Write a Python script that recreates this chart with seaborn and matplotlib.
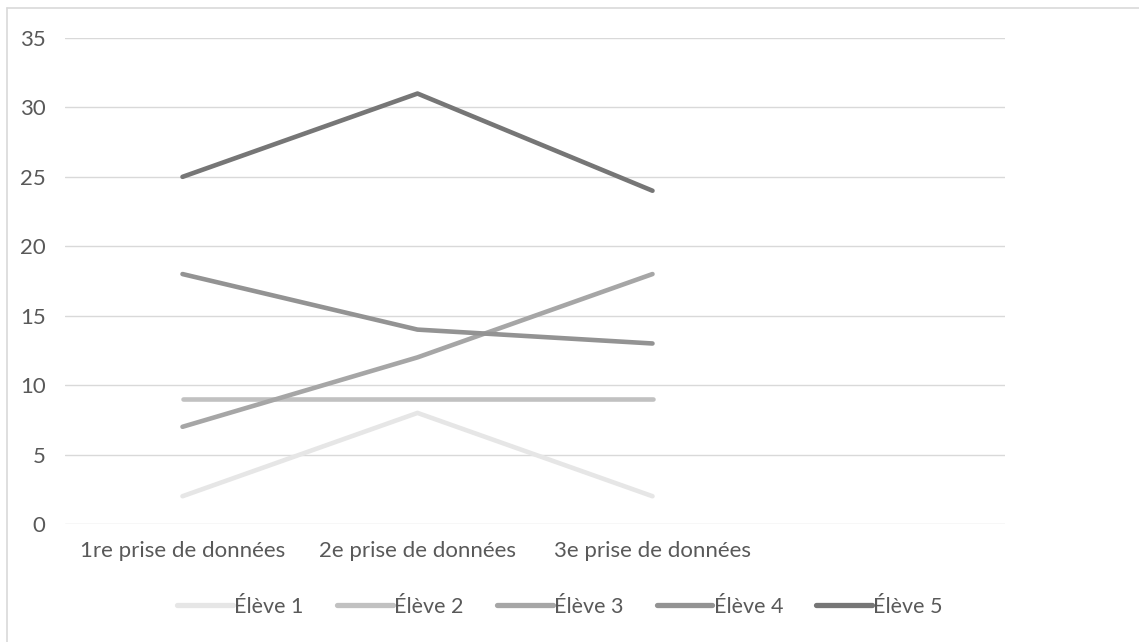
import matplotlib
matplotlib.use("Agg")
import matplotlib.pyplot as plt
from matplotlib.lines import Line2D
import seaborn as sns
import pandas as pd

categories = ["1re prise de données", "2e prise de données", "3e prise de données", ""]
students = ["Élève 1", "Élève 2", "Élève 3", "Élève 4", "Élève 5"]
eleve1 = [2, 8, 2]
eleve2 = [9, 9, 9]
eleve3 = [7, 12, 18]
eleve4 = [18, 14, 13]
eleve5 = [25, 31, 24]
colors = ["#e6e6e6", "#c1c1c1", "#a6a6a6", "#939393", "#767676"]

rows = []
for name, vals in zip(students, [eleve1, eleve2, eleve3, eleve4, eleve5]):
    for i, v in enumerate(vals):
        rows.append({"pos": i, "valeur": v, "eleve": name})
df = pd.DataFrame(rows)

sns.set_theme(style="white")
plt.rcParams["font.family"] = ["Lato", "DejaVu Sans"]
text_color = "#595959"

W, H = 1139, 642
fig = plt.figure(figsize=(W / 100, H / 100), dpi=100)
ax = fig.add_axes([65 / W, 1 - 524 / H, (1005 - 65) / W, (524 - 38) / H])

sns.lineplot(data=df, x="pos", y="valeur", hue="eleve", palette=colors,
             hue_order=students, linewidth=3.3, ax=ax, legend=False,
             solid_capstyle="round", solid_joinstyle="round")

ax.set_xlim(-0.5, len(categories) - 0.5)
ax.set_ylim(0, 35)
ax.set_yticks(range(0, 36, 5))
ax.set_xticks(range(len(categories)))
ax.set_xticklabels(categories)
ax.set_xlabel("")
ax.set_ylabel("")
ax.grid(axis="y", color="#d9d9d9", linewidth=1.0)
ax.set_axisbelow(True)
for s in ax.spines.values():
    s.set_visible(False)
ax.tick_params(axis="both", length=0, labelsize=16, labelcolor=text_color)
ax.tick_params(axis="y", pad=14)
ax.tick_params(axis="x", pad=12)

handles = [Line2D([0], [0], color=c, lw=3.8, solid_capstyle="round") for c in colors]
fig.legend(handles, students, loc="center", bbox_to_anchor=(560 / W, 1 - 607 / H),
           ncol=5, frameon=False, fontsize=15.5, labelcolor=text_color,
           handlelength=2.6, handletextpad=0.05, columnspacing=1.55)

# chart frame: top and left edges
fig.add_artist(Line2D([7 / W, 1], [1 - 8 / H, 1 - 8 / H], color="#d9d9d9", lw=1.2))
fig.add_artist(Line2D([7 / W, 7 / W], [0, 1 - 8 / H], color="#d9d9d9", lw=1.2))

fig.savefig("out.png", dpi=100)
